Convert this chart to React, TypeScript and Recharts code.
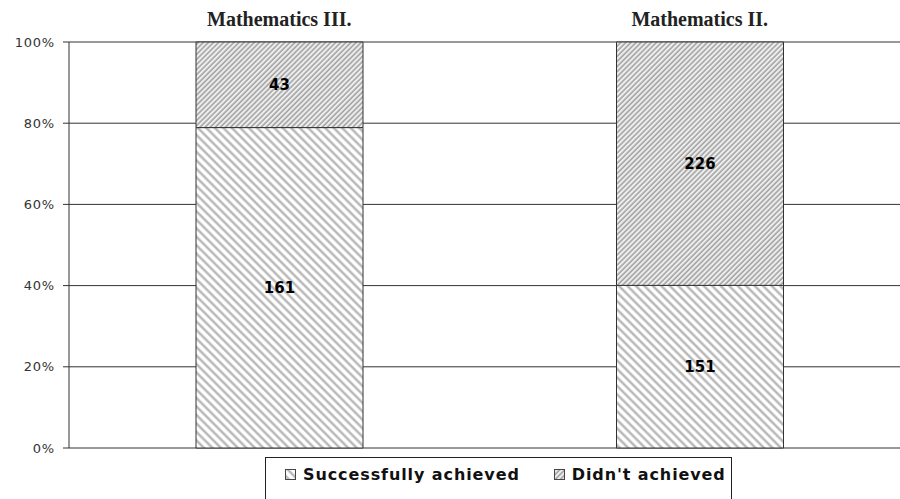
import { Bar, BarChart, CartesianGrid, LabelList, XAxis, YAxis } from "recharts"

const categories = ["Mathematics III.", "Mathematics II."]
const achieved = [161, 151]
const notAchieved = [43, 226]
const yTicks = [0, 0.2, 0.4, 0.6, 0.8, 1]
const seriesNames = ["Successfully achieved", "Didn't achieved"]

const data = categories.map((name, i) => ({
  name,
  achieved: achieved[i],
  notAchieved: notAchieved[i],
}))

const sans = "'DejaVu Sans', Verdana, sans-serif"

function Patterns({ prefix }: { prefix: string }) {
  return (
    <defs>
      <pattern
        id={`${prefix}-succ`}
        patternUnits="userSpaceOnUse"
        width={6}
        height={6}
        patternTransform="rotate(-45)"
      >
        <rect width={6} height={6} fill="#ffffff" />
        <line x1={1.5} y1={0} x2={1.5} y2={6} stroke="#b0b0b0" strokeWidth={2.2} />
      </pattern>
      <pattern
        id={`${prefix}-didnt`}
        patternUnits="userSpaceOnUse"
        width={3.6}
        height={3.6}
        patternTransform="rotate(45)"
      >
        <rect width={3.6} height={3.6} fill="#eeeeee" />
        <line x1={1} y1={0} x2={1} y2={3.6} stroke="#9a9a9a" strokeWidth={1.4} />
      </pattern>
    </defs>
  )
}

const TitleTick = (props: any) => {
  const { x, payload } = props
  return (
    <text
      x={x}
      y={26}
      textAnchor="middle"
      fontFamily="'Liberation Serif', serif"
      fontWeight="bold"
      fontSize={20}
      fill="#222"
    >
      {payload.value}
    </text>
  )
}

export default function App() {
  return (
    <div style={{ position: "absolute", left: 0, top: 0, width: 900, height: 499, background: "#fff" }}>
      <BarChart
        width={900}
        height={499}
        data={data}
        stackOffset="expand"
        barSize={167}
        margin={{ top: 12, right: -10, bottom: 51, left: -1 }}
      >
        <Patterns prefix="c" />
        <CartesianGrid vertical={false} stroke="#333" strokeOpacity={1} />
        <XAxis
          dataKey="name"
          orientation="top"
          height={30}
          axisLine={false}
          tickLine={false}
          tick={TitleTick}
        />
        <YAxis
          width={70}
          ticks={yTicks}
          domain={[0, 1]}
          tickFormatter={(v: number) => `${Math.round(v * 100)}%`}
          tick={{ fill: "#333", fontSize: 13, fontFamily: sans, letterSpacing: 0.8 }}
          tickSize={6}
          tickMargin={8}
          axisLine={{ stroke: "#333" }}
          tickLine={{ stroke: "#333" }}
          interval={0}
        />
        <Bar
          dataKey="achieved"
          stackId="a"
          fill="url(#c-succ)"
          stroke="#333"
          strokeWidth={1}
          isAnimationActive={false}
        >
          <LabelList
            dataKey="achieved"
            position="center"
            fill="#000"
            fontSize={15}
            fontWeight="bold"
            fontFamily={sans}
          />
        </Bar>
        <Bar
          dataKey="notAchieved"
          stackId="a"
          fill="url(#c-didnt)"
          stroke="#333"
          strokeWidth={1}
          isAnimationActive={false}
        >
          <LabelList
            dataKey="notAchieved"
            position="center"
            fill="#000"
            fontSize={15}
            fontWeight="bold"
            fontFamily={sans}
          />
        </Bar>
      </BarChart>
      <div
        style={{
          position: "absolute",
          left: 265,
          top: 457,
          width: 467,
          height: 50,
          border: "1.5px solid #222",
          boxSizing: "border-box",
          fontFamily: sans,
          fontWeight: "bold",
          fontSize: 16,
          letterSpacing: 0.9,
          color: "#111",
          display: "flex",
          alignItems: "flex-start",
          paddingTop: 7,
          paddingLeft: 19,
          whiteSpace: "nowrap",
        }}
      >
        {seriesNames.map((name, i) => (
          <span key={name} style={{ display: "flex", alignItems: "center", marginRight: 34 }}>
            <svg width={11} height={11} style={{ marginRight: 7 }}>
              <Patterns prefix={`l${i}`} />
              <rect
                x={0.5}
                y={0.5}
                width={10}
                height={10}
                fill={`url(#l${i}-${i === 0 ? "succ" : "didnt"})`}
                stroke="#444"
              />
            </svg>
            {name}
          </span>
        ))}
      </div>
    </div>
  )
}
